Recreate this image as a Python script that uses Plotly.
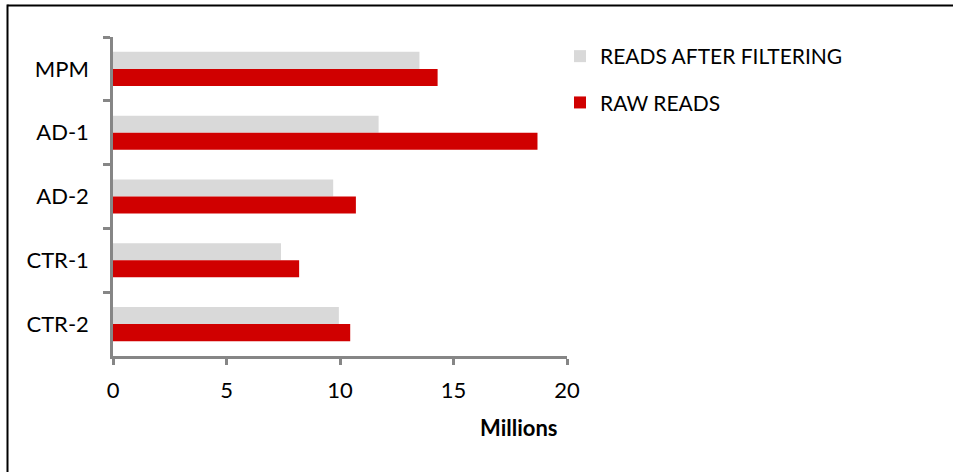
import plotly.graph_objects as go

categories = ["MPM", "AD-1", "AD-2", "CTR-1", "CTR-2"]
filtered_reads = [13.5, 11.7, 9.7, 7.4, 9.95]
raw_reads = [14.3, 18.7, 10.7, 8.2, 10.45]
x_ticks = [0, 5, 10, 15, 20]

FONT = "Lato"
AXIS_COLOR = "#868686"

fig = go.Figure()
fig.add_trace(go.Bar(
    y=categories, x=filtered_reads, orientation="h",
    name="READS AFTER FILTERING", marker=dict(color="#D9D9D9", line=dict(width=0)),
    legendgroup="a",
))
fig.add_trace(go.Bar(
    y=categories, x=raw_reads, orientation="h",
    name="RAW READS", marker=dict(color="#D00000", line=dict(width=0)),
    legendgroup="b",
))

W, H = 953, 472
L, R, T, B = 113, 386, 37, 116
pw, ph = W - L - R, H - T - B

def px(xpix):
    return (xpix - L) / pw

def py(ypix):
    return 1 - (ypix - T) / ph

fig.update_layout(
    width=W, height=H,
    margin=dict(l=L, r=R, t=T, b=B, autoexpand=False),
    paper_bgcolor="white", plot_bgcolor="white",
    barmode="group", bargap=0.465, bargroupgap=0,
    font=dict(family=FONT, size=21, color="black"),
    showlegend=True,
    legend=dict(
        x=px(560), y=py(36), xanchor="left", yanchor="top",
        font=dict(family=FONT, size=21, color="black"),
        traceorder="grouped", tracegroupgap=16,
        bgcolor="rgba(0,0,0,0)", itemwidth=30,
    ),
    xaxis=dict(
        range=[0, 20], tickvals=x_ticks, ticktext=[str(v) for v in x_ticks],
        showgrid=False, zeroline=False,
        showline=True, linecolor=AXIS_COLOR, linewidth=2.5,
        ticks="outside", ticklen=6, tickwidth=2.5, tickcolor=AXIS_COLOR,
        ticklabelstandoff=7,
        tickfont=dict(family=FONT, size=22, color="black"),
    ),
    yaxis=dict(
        categoryorder="array", categoryarray=categories,
        autorange="reversed",
        showgrid=False, zeroline=False,
        showline=True, linecolor=AXIS_COLOR, linewidth=2.5,
        ticks="outside", ticklen=7, tickwidth=2.5, tickcolor=AXIS_COLOR,
        tickson="boundaries", ticklabelstandoff=17,
        tickfont=dict(family=FONT, size=22, color="black"),
    ),
    shapes=[
        dict(type="line", xref="paper", yref="paper",
             x0=px(7.5), x1=px(1000), y0=py(5.5), y1=py(5.5),
             line=dict(color="black", width=2)),
        dict(type="line", xref="paper", yref="paper",
             x0=px(7.5), x1=px(7.5), y0=py(4.5), y1=py(500),
             line=dict(color="black", width=2)),
    ],
    annotations=[
        dict(text="<b>Millions</b>", xref="paper", yref="paper",
             x=px(518), y=py(427), xanchor="center", yanchor="middle",
             showarrow=False, font=dict(family=FONT, size=22, color="black")),
    ],
)

fig.write_html("out.html")
